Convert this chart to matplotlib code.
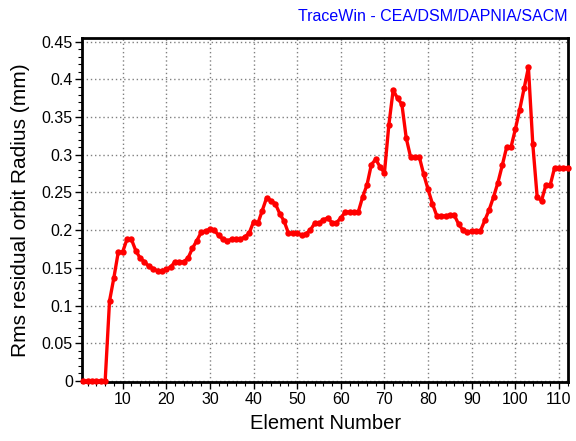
import numpy as np
import matplotlib
matplotlib.use("Agg")
import matplotlib.pyplot as plt
from matplotlib.ticker import MultipleLocator

plt.rcParams["font.family"] = ["Liberation Sans", "DejaVu Sans"]

# Rms residual orbit radius per element (mm), elements 1..112
element = list(range(1, 113))
radius = [
    0.0, 0.0, 0.0, 0.0, 0.0, 0.0, 0.106, 0.137, 0.171, 0.171,
    0.188, 0.188, 0.173, 0.163, 0.158, 0.152, 0.149, 0.146, 0.146, 0.148,
    0.151, 0.158, 0.158, 0.158, 0.163, 0.176, 0.186, 0.197, 0.199, 0.201,
    0.200, 0.193, 0.188, 0.186, 0.188, 0.188, 0.188, 0.191, 0.196, 0.211,
    0.209, 0.226, 0.243, 0.239, 0.235, 0.222, 0.212, 0.196, 0.196, 0.196,
    0.193, 0.195, 0.200, 0.209, 0.209, 0.214, 0.216, 0.210, 0.210, 0.216,
    0.224, 0.224, 0.224, 0.224, 0.244, 0.260, 0.287, 0.294, 0.284, 0.276,
    0.339, 0.386, 0.375, 0.367, 0.322, 0.297, 0.297, 0.297, 0.274, 0.254,
    0.235, 0.219, 0.219, 0.219, 0.220, 0.220, 0.208, 0.200, 0.197, 0.199,
    0.199, 0.199, 0.213, 0.227, 0.244, 0.263, 0.286, 0.310, 0.310, 0.334,
    0.360, 0.388, 0.416, 0.314, 0.244, 0.239, 0.260, 0.260, 0.283, 0.283,
    0.283, 0.283,
]

x_ticks = [10, 20, 30, 40, 50, 60, 70, 80, 90, 100, 110]
y_ticks = [0, 0.05, 0.1, 0.15, 0.2, 0.25, 0.3, 0.35, 0.4, 0.45]
y_ticklabels = ["0", "0.05", "0.1", "0.15", "0.2", "0.25", "0.3", "0.35", "0.4", "0.45"]

fig = plt.figure(figsize=(5.76, 4.41), dpi=100)
ax = fig.add_axes([0.1432, 0.1338, 0.8424, 0.78])

ax.plot(element, radius, color="#ff0000", lw=2.4, marker="o", ms=4.6,
        markeredgewidth=0, clip_on=False, zorder=3)

ax.set_xlim(0.8, 112)
ax.set_ylim(-0.0015, 0.455)
ax.set_xticks(x_ticks)
ax.set_yticks(y_ticks)
ax.set_yticklabels(y_ticklabels)
ax.xaxis.set_minor_locator(MultipleLocator(2))
ax.yaxis.set_minor_locator(MultipleLocator(0.01))
ax.tick_params(which="major", direction="out", length=5, width=1, labelsize=11.5, pad=2)
ax.tick_params(which="minor", direction="out", length=3, width=0.8)

ax.grid(True, which="major", color="#808080", linestyle=(0, (1, 2)), linewidth=1.0)
ax.set_axisbelow(True)
for sp in ax.spines.values():
    sp.set_linewidth(2)

ax.set_xlabel("Element Number", fontsize=14.5, labelpad=5)
ax.set_ylabel("Rms residual orbit Radius (mm)", fontsize=15, labelpad=8)

fig.text(0.986, 0.963, "TraceWin - CEA/DSM/DAPNIA/SACM", color="#0000ff",
         fontsize=11.5, ha="right", va="center")

fig.savefig("out.png", dpi=100)
